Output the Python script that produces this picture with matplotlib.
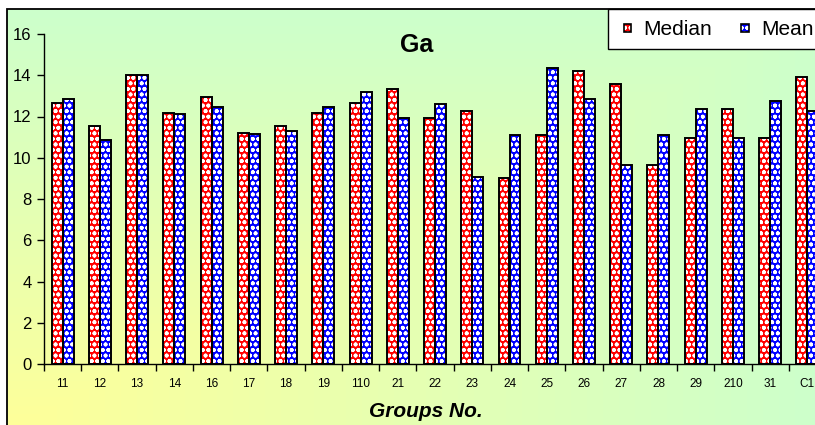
import numpy as np
import matplotlib
matplotlib.use("Agg")
import matplotlib.pyplot as plt
from matplotlib.patches import Rectangle, Patch
from matplotlib.colors import to_rgb
from matplotlib.legend_handler import HandlerPatch, HandlerTuple

groups = ['11', '12', '13', '14', '16', '17', '18', '19', '110', '21', '22',
          '23', '24', '25', '26', '27', '28', '29', '210', '31', 'C1']
median = [12.67, 11.54, 14.00, 12.19, 12.93, 11.22, 11.54, 12.19, 12.67, 13.33, 11.94,
          12.28, 9.00, 11.12, 14.23, 13.59, 9.65, 10.97, 12.36, 10.97, 13.92]
mean = [12.85, 10.88, 14.00, 12.10, 12.44, 11.13, 11.30, 12.44, 13.17, 11.94, 12.60,
        9.08, 11.12, 14.33, 12.85, 9.65, 11.12, 12.36, 10.97, 12.77, 12.28]
series_names = ['Median', 'Mean']
series_colors = ['#FF0000', '#0000FF']

plt.rcParams['font.family'] = ['Liberation Sans', 'DejaVu Sans']
plt.rcParams['hatch.color'] = 'white'
plt.rcParams['hatch.linewidth'] = 1.2

W, H = 815, 425
fig = plt.figure(figsize=(W / 100, H / 100), dpi=100)
fig.patch.set_facecolor('white')

# chart area with a corner gradient (yellow bottom-left -> green)
cx0, cy_top, cw, ch = 7, 9, 822, 422
bg = fig.add_axes([cx0 / W, (H - cy_top - ch) / H, cw / W, ch / H])
n = 300
u = np.linspace(0, 1, n)
U, V = np.meshgrid(u, u)
t = np.maximum(U, V)[..., None]
yellow = np.array(to_rgb('#FFFF99'))
green = np.array(to_rgb('#CCFFCC'))
img = yellow * (1 - t) + green * t
bg.imshow(img, origin='lower', extent=[0, 1, 0, 1], aspect='auto', interpolation='bilinear')
bg.add_patch(Rectangle((0, 0), 1, 1, fill=False, edgecolor='black', linewidth=1.3,
                       transform=bg.transAxes, clip_on=False))
bg.set_xlim(0, 1)
bg.set_ylim(0, 1)
bg.axis('off')

# plot area
cat_w = 37.24
ax = fig.add_axes([44 / W, (H - 364) / H, len(groups) * cat_w / W, 330 / H])
ax.set_facecolor('none')

x = np.arange(len(groups))
bw = 0.295
pattern = 'ooo'
handles = []
for vals, off, col in zip([median, mean], [-bw / 2, bw / 2], series_colors):
    ax.bar(x + off, vals, bw, color=col, hatch=pattern, linewidth=0, zorder=2)
    ax.bar(x + off, vals, bw, fill=False, edgecolor='black', linewidth=1.4, zorder=3)
    handles.append(Patch(facecolor=col, hatch=pattern, linewidth=0))

ax.set_xlim(-0.5, len(groups) - 0.5)
ax.set_ylim(0, 16)
ax.set_yticks(np.arange(0, 17, 2))
ax.set_xticks(x)
ax.set_xticklabels(groups)
ax.set_xticks(np.arange(-0.5, len(groups), 1), minor=True)
ax.tick_params(axis='y', labelsize=12, length=5, width=1, pad=4, color='black')
ax.tick_params(axis='x', which='major', length=0, labelsize=8.5, pad=10)
ax.tick_params(axis='x', which='minor', length=5, width=1)
for s in ['top', 'right']:
    ax.spines[s].set_visible(False)
for s in ['left', 'bottom']:
    ax.spines[s].set_linewidth(1)
    ax.spines[s].set_color('black')

fig.text(417 / W, 1 - 51.7 / H, 'Ga', fontsize=18, fontweight='bold',
         ha='center', va='baseline')
fig.text(426 / W, 1 - 416.7 / H, 'Groups No.', fontsize=15, fontweight='bold',
         fontstyle='italic', ha='center', va='baseline')


def small_square(legend, orig_handle, xdescent, ydescent, width, height, fontsize):
    s = 5.6
    return Rectangle((-xdescent + 3.8, -ydescent + (height - s) / 2), s, s)


outlines = [Patch(fill=False, edgecolor='black', linewidth=1.2) for _ in handles]
hmap = {h: HandlerPatch(patch_func=small_square) for h in handles + outlines}
hmap[tuple] = HandlerTuple(ndivide=1)
leg = fig.legend([(h, o) for h, o in zip(handles, outlines)], series_names,
                 handler_map=hmap,
                 loc='upper left', bbox_to_anchor=(608 / W, 1 - 9.5 / H),
                 bbox_transform=fig.transFigure, ncol=2, fontsize=15,
                 frameon=True, fancybox=False, borderpad=0.5, borderaxespad=0,
                 handlelength=0.75, handleheight=0.7, handletextpad=0.45,
                 columnspacing=1.14)
leg.get_frame().set_edgecolor('black')
leg.get_frame().set_linewidth(1.0)
leg.get_frame().set_facecolor('white')
leg.get_frame().set_alpha(1)

fig.savefig('out.png', dpi=100)
